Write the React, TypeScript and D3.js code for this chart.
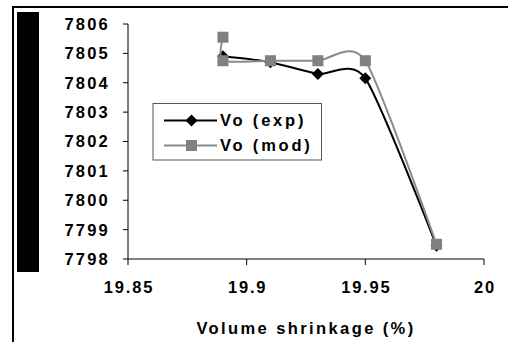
import React from "react";
import * as d3 from "d3";

const xTicks = [19.85, 19.9, 19.95, 20];
const yTicks = [7798, 7799, 7800, 7801, 7802, 7803, 7804, 7805, 7806];
const expX = [19.89, 19.91, 19.93, 19.95, 19.98];
const expY = [7804.9, 7804.7, 7804.3, 7804.15, 7798.45];
const modX = [19.89, 19.89, 19.91, 19.93, 19.95, 19.98];
const modY = [7805.55, 7804.75, 7804.75, 7804.75, 7804.75, 7798.5];
const seriesNames = ["Vo (exp)", "Vo (mod)"];
const xTitle = "Volume shrinkage (%)";

const W = 508, H = 342;
const FONT = "Arial, 'Liberation Sans', sans-serif";

export default function App() {
  const x = d3.scaleLinear().domain([19.85, 20]).range([128, 484]);
  const y = d3.scaleLinear().domain([7798, 7806]).range([259, 24]);
  const line = d3
    .line<[number, number]>()
    .x((d) => x(d[0]))
    .y((d) => y(d[1]))
    .curve(d3.curveCardinal.tension(0.3));
  const expPts: [number, number][] = expX.map((v, i) => [v, expY[i]]);
  const modPts: [number, number][] = modX.map((v, i) => [v, modY[i]]);
  const diamond = (cx: number, cy: number, r: number) =>
    `M${cx},${cy - r}L${cx + r},${cy}L${cx},${cy + r}L${cx - r},${cy}Z`;
  const x0 = x.range()[0], x1 = x.range()[1];
  const y0 = y.range()[0], y1 = y.range()[1];
  const tf = { fontSize: 16.5, fontWeight: "bold" as const };
  return (
    <svg
      width={W}
      height={H}
      style={{ position: "absolute", left: 0, top: 0, background: "#fff" }}
      fontFamily={FONT}
    >
      <rect x={0} y={0} width={W} height={H} fill="#fff" />
      {/* frame */}
      <line x1={13} y1={7} x2={13} y2={H} stroke="#000" strokeWidth={2} />
      <line x1={12} y1={7} x2={W} y2={7} stroke="#000" strokeWidth={2} />
      <rect x={17} y={12} width={22} height={260} fill="#000" />
      {/* axes */}
      <line x1={x0} y1={y1} x2={x0} y2={y0} stroke="#000" strokeWidth={1} />
      <line x1={x0} y1={y0} x2={x1} y2={y0} stroke="#000" strokeWidth={1} />
      {yTicks.map((t) => (
        <g key={"y" + t}>
          <line x1={x0 - 5} x2={x0} y1={y(t)} y2={y(t)} stroke="#000" />
          <text x={110} y={y(t)} dy="0.36em" textAnchor="end" {...tf} letterSpacing={2.2}>
            {t}
          </text>
        </g>
      ))}
      {xTicks.map((t) => (
        <g key={"x" + t}>
          <line x1={x(t)} x2={x(t)} y1={y0} y2={y0 + 6} stroke="#000" />
          <text x={x(t) + 1} y={293} textAnchor="middle" {...tf} letterSpacing={1.8}>
            {t}
          </text>
        </g>
      ))}
      <text x={306} y={334} textAnchor="middle" {...tf} letterSpacing={2.4}>
        {xTitle}
      </text>
      {/* series */}
      <path d={line(expPts) || ""} fill="none" stroke="#000" strokeWidth={2} />
      {expPts.map((p, i) => (
        <path key={"e" + i} d={diamond(x(p[0]), y(p[1]), 6)} fill="#000" />
      ))}
      <path d={line(modPts) || ""} fill="none" stroke="#8a8a8a" strokeWidth={2} />
      {modPts.map((p, i) => (
        <rect
          key={"m" + i}
          x={x(p[0]) - 5.5}
          y={y(p[1]) - 5.5}
          width={11}
          height={11}
          fill="#808080"
        />
      ))}
      {/* legend */}
      <rect x={153} y={103.5} width={168.5} height={56.5} fill="#fff" stroke="#555" strokeWidth={1} />
      <line x1={164} x2={217} y1={120.5} y2={120.5} stroke="#000" strokeWidth={2} />
      <path d={diamond(191.5, 120.5, 6)} fill="#000" />
      <text x={220} y={120.5} dy="0.36em" {...tf} letterSpacing={2.8}>
        {seriesNames[0]}
      </text>
      <line x1={164} x2={217} y1={145.5} y2={145.5} stroke="#8a8a8a" strokeWidth={2} />
      <rect x={186} y={140} width={11} height={11} fill="#808080" />
      <text x={220} y={145.5} dy="0.36em" {...tf} letterSpacing={2.8}>
        {seriesNames[1]}
      </text>
    </svg>
  );
}
